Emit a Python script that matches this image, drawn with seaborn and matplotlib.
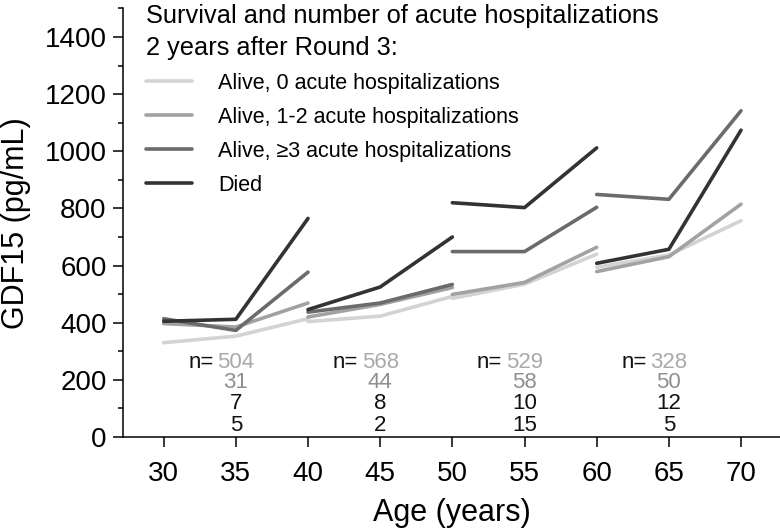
import numpy as np
import pandas as pd
import matplotlib
matplotlib.use("Agg")
import matplotlib.pyplot as plt
import seaborn as sns
from matplotlib.ticker import MultipleLocator

# ---- data ----
groups = ["Alive, 0 acute hospitalizations",
          "Alive, 1-2 acute hospitalizations",
          "Alive, \u22653 acute hospitalizations",
          "Died"]
colors = ["#d3d3d3", "#a2a2a2", "#6b6b6b", "#333333"]

# each round covers a 10-year age window (start, middle, end)
ages = [[30, 35, 40], [40, 45, 50], [50, 55, 60], [60, 65, 70]]
gdf_alive0 = [[330, 353, 414], [404, 423, 492], [485, 535, 640], [594, 637, 757]]
gdf_alive12 = [[397, 385, 469], [420, 464, 523], [499, 541, 664], [579, 631, 815]]
gdf_alive3 = [[414, 373, 577], [437, 469, 534], [649, 649, 804], [849, 832, 1142]]
gdf_died = [[405, 412, 765], [446, 525, 700], [820, 803, 1012], [608, 657, 1074]]

n_ages = [35, 45, 55, 65]
n_alive0 = [504, 568, 529, 328]
n_alive12 = [31, 44, 58, 50]
n_alive3 = [7, 8, 10, 12]
n_died = [5, 2, 15, 5]

# long table for seaborn
rows = []
for grp, vals in zip(groups, [gdf_alive0, gdf_alive12, gdf_alive3, gdf_died]):
    for seg, (a, v) in enumerate(zip(ages, vals)):
        for age, g in zip(a, v):
            rows.append({"age": age, "gdf15": g, "group": grp, "seg": seg})
df = pd.DataFrame(rows)

sns.set_style("ticks")
plt.rcParams["font.family"] = ["Liberation Sans", "DejaVu Sans"]
plt.rcParams["text.color"] = "black"
plt.rcParams["axes.labelcolor"] = "black"
plt.rcParams["xtick.color"] = "black"
plt.rcParams["ytick.color"] = "black"

fig = plt.figure(figsize=(7.8, 5.3), dpi=100)
ax = fig.add_axes([0.158, 0.1755, 0.842, 0.8085])

sns.lineplot(data=df, x="age", y="gdf15", hue="group", units="seg",
             estimator=None, hue_order=groups, palette=dict(zip(groups, colors)),
             linewidth=2.6, ax=ax)

ax.set_xlim(27.2, 72.7)
ax.set_ylim(0, 1500)
ax.set_xticks(np.arange(30, 71, 5))
ax.set_yticks(np.arange(0, 1401, 200))
ax.yaxis.set_minor_locator(MultipleLocator(100))
ax.tick_params(axis="both", which="major", labelsize=20, length=7.5, width=1.1,
               color="black", labelcolor="black", direction="out")
ax.tick_params(axis="x", which="major", pad=10)
ax.tick_params(axis="y", which="major", pad=4.5)
ax.tick_params(axis="y", which="minor", length=3.8, width=1.1, color="black")
for s in ["left", "bottom"]:
    ax.spines[s].set_linewidth(1.1)
    ax.spines[s].set_color("black")
sns.despine(ax=ax)

ax.set_xlabel("Age (years)", fontsize=22, labelpad=8, color="black")
ax.set_ylabel("GDF15 (pg/mL)", fontsize=22, labelpad=10, color="black")

# numbers at risk under each round
n_rows = [n_alive0, n_alive12, n_alive3, n_died]
n_cols = ["#a9a9a9", "#8f8f8f", "#111111", "#111111"]
row_y = [262, 189, 117, 41]
for i, x in enumerate(n_ages):
    for vals, c, yy in zip(n_rows, n_cols, row_y):
        ax.text(x, yy, str(vals[i]), ha="center", va="center", fontsize=16, color=c)
    ax.text(x - 1.55, row_y[0], "n=", ha="right", va="center", fontsize=16, color="#111111")

handles, labels = ax.get_legend_handles_labels()
leg = ax.legend(handles, labels,
                title="Survival and number of acute hospitalizations\n2 years after Round 3:",
                loc="upper left", bbox_to_anchor=(0.173, 1.012), bbox_transform=fig.transFigure,
                frameon=False, fontsize=15.5, title_fontsize=18.3, alignment="left",
                handlelength=2.15, handletextpad=1.2, labelspacing=0.6, borderpad=0.0,
                labelcolor="black")
leg.get_title().set_linespacing(1.4)
leg.get_title().set_color("black")

fig.savefig("out.png", dpi=100)
